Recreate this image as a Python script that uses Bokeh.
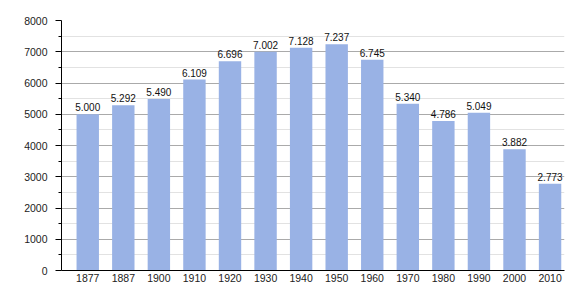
from bokeh.plotting import figure
from bokeh.models import ColumnDataSource, FixedTicker, Range1d, LabelSet
from bokeh.core.properties import value
from bokeh.embed import file_html
from bokeh.resources import INLINE

years = ["1877", "1887", "1900", "1910", "1920", "1930", "1940", "1950",
         "1960", "1970", "1980", "1990", "2000", "2010"]
population = [5000, 5292, 5490, 6109, 6696, 7002, 7128, 7237, 6745,
              5340, 4786, 5049, 3882, 2773]
y_ticks = [0, 1000, 2000, 3000, 4000, 5000, 6000, 7000, 8000]
y_minor = [500, 1500, 2500, 3500, 4500, 5500, 6500, 7500]

xs = list(range(len(years)))
labels = [f"{v:,}".replace(",", ".") for v in population]
src = ColumnDataSource(dict(x=xs, top=population, label=labels))

FONT = "Liberation Sans"

p = figure(width=580, height=300, output_backend="svg", toolbar_location=None,
           x_range=Range1d(-0.738, len(years) - 1 + 0.406), y_range=Range1d(0, 8000),
           min_border_left=61, min_border_right=16, min_border_top=20, min_border_bottom=30)
p.outline_line_color = None
p.background_fill_color = "white"
p.border_fill_color = "white"

p.vbar(x="x", top="top", width=0.63, bottom=0, source=src,
       fill_color="#99B2E5", line_color=None)
p.add_layout(LabelSet(x="x", y="top", text="label", source=src, text_align="center",
                      text_baseline="bottom", y_offset=3, text_font=value(FONT),
                      text_font_size="10px", text_color="#111111"))

yt = FixedTicker(ticks=y_ticks, minor_ticks=y_minor)
p.yaxis.ticker = yt
p.yaxis.axis_line_color = "black"
p.yaxis.major_tick_out = 6
p.yaxis.major_tick_in = 0
p.yaxis.minor_tick_out = 3
p.yaxis.minor_tick_in = 0
p.yaxis.major_label_text_font = FONT
p.yaxis.major_label_text_font_size = "10.5px"
p.yaxis.major_label_text_color = "#222222"
p.yaxis.major_label_standoff = 8

p.xaxis.ticker = FixedTicker(ticks=xs)
p.xaxis.major_label_overrides = {i: y for i, y in enumerate(years)}
p.xaxis.major_tick_out = 0
p.xaxis.major_tick_in = 0
p.xaxis.minor_tick_out = 0
p.xaxis.minor_tick_in = 0
p.xaxis.axis_line_color = "black"
p.xaxis.major_label_text_font = FONT
p.xaxis.major_label_text_font_size = "10.5px"
p.xaxis.major_label_text_color = "#222222"
p.xaxis.major_label_standoff = 3

p.xgrid.grid_line_color = None
p.ygrid.ticker = yt
p.ygrid.grid_line_color = "#AAAAAA"
p.ygrid.minor_grid_line_color = "#E2E2E2"

open("out.html", "w").write(file_html(p, INLINE))
